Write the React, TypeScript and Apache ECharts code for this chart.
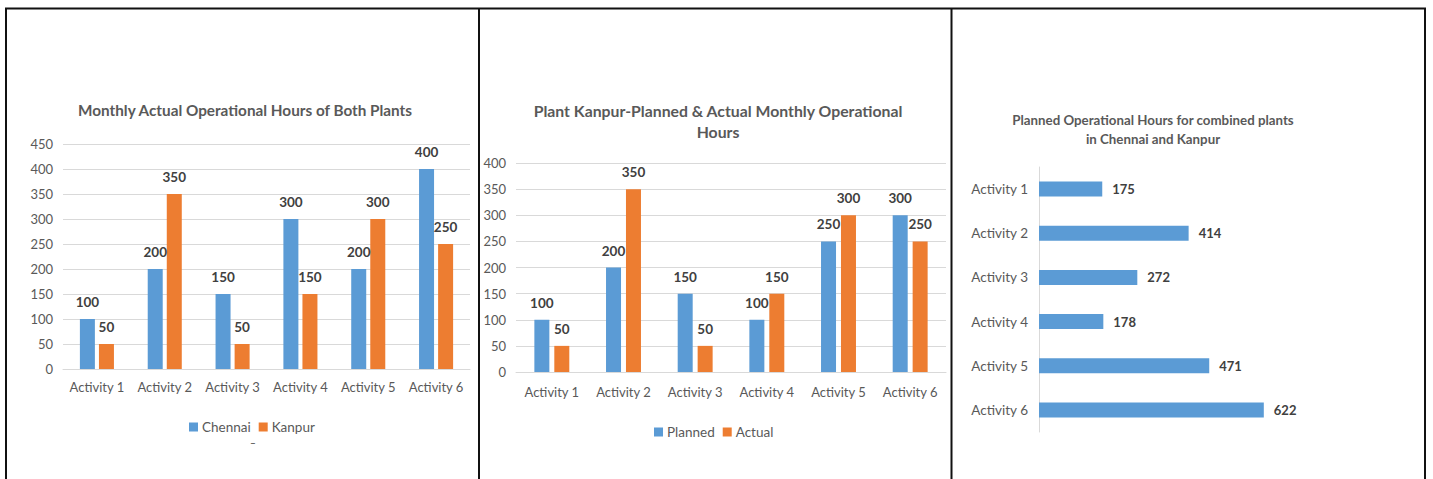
import React, { useEffect, useRef } from "react";
import * as echarts from "echarts";

const categories = ["Activity 1", "Activity 2", "Activity 3", "Activity 4", "Activity 5", "Activity 6"];
const chennaiActual = [100, 200, 150, 300, 200, 400];
const kanpurActual = [50, 350, 50, 150, 300, 250];
const kanpurPlanned = [100, 200, 150, 100, 250, 300];
const kanpurActual2 = [50, 350, 50, 150, 300, 250];
const combinedPlanned = [175, 414, 272, 178, 471, 622];

const title1 = "Monthly Actual Operational Hours of Both Plants";
const title2 = "Plant Kanpur-Planned & Actual Monthly Operational\nHours";
const title3 = "Planned Operational Hours for combined plants\nin Chennai and Kanpur";

const BLUE = "#5B9BD5";
const ORANGE = "#ED7D31";
const GRID = "#D9D9D9";
const AXIS_TEXT = "#595959";
const LABEL_TEXT = "#404040";
const FONT = "Lato";

export default function App() {
  const ref = useRef<HTMLDivElement>(null);
  useEffect(() => {
    if (!ref.current) return;
    const chart = echarts.init(ref.current, null, { renderer: "svg" });
    const barLabel = {
      show: true,
      position: "top",
      distance: 10,
      color: LABEL_TEXT,
      fontWeight: "bold",
      fontSize: 13.5,
      fontFamily: FONT,
    };
    const catAxis = (gridIndex: number, margin: number) => ({
      type: "category",
      gridIndex,
      data: categories,
      axisTick: { show: false },
      axisLine: { lineStyle: { color: GRID } },
      axisLabel: { color: AXIS_TEXT, fontSize: 13, fontFamily: FONT, margin, interval: 0, hideOverlap: false },
    });
    const valAxis = (gridIndex: number, max: number) => ({
      type: "value",
      gridIndex,
      min: 0,
      max,
      interval: 50,
      axisLine: { show: false },
      axisTick: { show: false },
      splitLine: { lineStyle: { color: GRID } },
      axisLabel: { color: AXIS_TEXT, fontSize: 13, fontFamily: FONT, margin: 10 },
    });
    const titleText = (text: string, x: number, y: number, size: number, lh: number) => ({
      type: "text",
      x,
      y,
      style: {
        text,
        textAlign: "center",
        textVerticalAlign: "top",
        fill: AXIS_TEXT,
        font: `bold ${size}px ${FONT}`,
        lineHeight: lh,
      },
    });
    const line = (x1: number, y1: number, x2: number, y2: number) => ({
      type: "line",
      shape: { x1, y1, x2, y2 },
      style: { stroke: "#111", lineWidth: 2 },
    });
    const legendText = { color: AXIS_TEXT, fontSize: 13.5, fontFamily: FONT, padding: [0, 0, 0, -1] };
    chart.setOption({
      animation: false,
      textStyle: { fontFamily: FONT },
      grid: [
        { left: 63, top: 144, width: 407, height: 225 },
        { left: 516, top: 163, width: 430, height: 209 },
        { left: 1039, top: 167, width: 253, height: 265 },
      ],
      xAxis: [
        catAxis(0, 11),
        catAxis(1, 13),
        { type: "value", gridIndex: 2, min: 0, max: 700, show: false, splitLine: { show: false } },
      ],
      yAxis: [
        valAxis(0, 450),
        valAxis(1, 400),
        {
          type: "category",
          gridIndex: 2,
          data: categories,
          inverse: true,
          axisTick: { show: false },
          axisLine: { lineStyle: { color: GRID } },
          axisLabel: { color: AXIS_TEXT, fontSize: 13.5, fontFamily: FONT, margin: 11, interval: 0 },
        },
      ],
      legend: [
        {
          data: ["Chennai", "Kanpur"],
          left: 184,
          top: 415,
          icon: "rect",
          itemWidth: 9,
          itemHeight: 9,
          itemGap: 8,
          textStyle: legendText,
        },
        {
          data: ["Planned", "Actual"],
          left: 649,
          top: 420,
          icon: "rect",
          itemWidth: 9,
          itemHeight: 9,
          itemGap: 8,
          textStyle: legendText,
        },
      ],
      series: [
        { name: "Chennai", type: "bar", xAxisIndex: 0, yAxisIndex: 0, data: chennaiActual, barWidth: 15, barGap: "27%", itemStyle: { color: BLUE }, label: barLabel },
        { name: "Kanpur", type: "bar", xAxisIndex: 0, yAxisIndex: 0, data: kanpurActual, barWidth: 15, barGap: "27%", itemStyle: { color: ORANGE }, label: barLabel },
        { name: "Planned", type: "bar", xAxisIndex: 1, yAxisIndex: 1, data: kanpurPlanned, barWidth: 15, barGap: "33%", itemStyle: { color: BLUE }, label: barLabel },
        { name: "Actual", type: "bar", xAxisIndex: 1, yAxisIndex: 1, data: kanpurActual2, barWidth: 15, barGap: "33%", itemStyle: { color: ORANGE }, label: barLabel },
        {
          name: "Combined Planned",
          type: "bar",
          xAxisIndex: 2,
          yAxisIndex: 2,
          data: combinedPlanned,
          barWidth: 15,
          itemStyle: { color: BLUE },
          label: { ...barLabel, position: "right", distance: 10, fontSize: 13 },
        },
      ],
      graphic: [
        line(6, 8, 6, 479),
        line(5, 8.5, 1426, 8.5),
        line(479, 8, 479, 479),
        line(951.5, 8, 951.5, 479),
        line(1425, 8, 1425, 479),
        titleText(title1, 245, 101, 15.3, 18),
        titleText(title2, 718, 100, 15.8, 21),
        titleText(title3, 1153, 110, 13.3, 19),
        {
          type: "text",
          x: 253,
          y: 442,
          style: { text: "–", textAlign: "center", textVerticalAlign: "middle", fill: AXIS_TEXT, font: `bold 10px ${FONT}` },
        },
      ],
    });
    return () => chart.dispose();
  }, []);
  return <div ref={ref} style={{ position: "fixed", left: 0, top: 0, width: 1433, height: 479, background: "#fff" }} />;
}
